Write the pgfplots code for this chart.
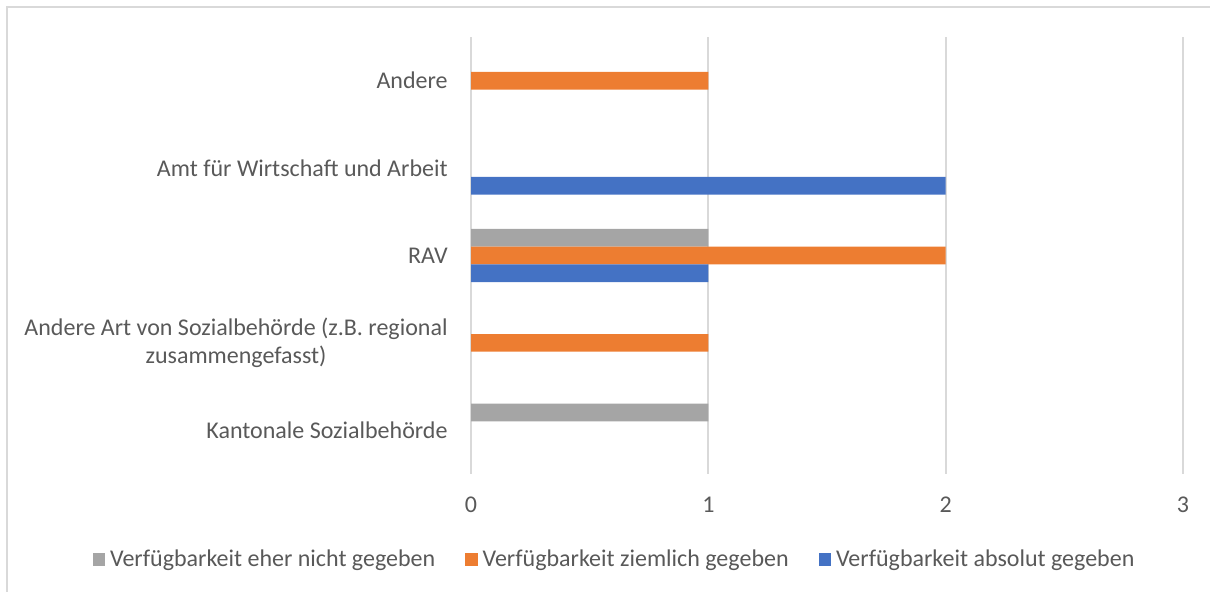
\documentclass[border=0pt]{standalone}
\usepackage{pgfplots}
\pgfplotsset{compat=1.18}
\usepackage{fontspec}
\setmainfont{Carlito}
\definecolor{txt}{HTML}{595959}
\definecolor{grd}{HTML}{D9D9D9}
\definecolor{cgray}{HTML}{A5A5A5}
\definecolor{corange}{HTML}{ED7D31}
\definecolor{cblue}{HTML}{4472C4}
\begin{document}
\begin{tikzpicture}
\useasboundingbox (0,0) rectangle (605pt,296pt);
\draw[grd, line width=0.75pt] (3.5pt,0) -- (3.5pt,292.5pt) -- (605pt,292.5pt);
\begin{axis}[
  at={(235.5pt,59pt)}, anchor=south west,
  scale only axis, width=356pt, height=218.5pt,
  xmin=0, xmax=3, ymin=-0.5, ymax=4.5,
  xbar, bar width=8.85pt,
  xtick={0,1,2,3}, ytick={0,1,2,3,4},
  yticklabels={Kantonale Sozialbehörde, {Andere Art von Sozialbehörde (z.B. regional\\zusammengefasst)}, RAV, Amt für Wirtschaft und Arbeit, Andere},
  axis line style={draw=none},
  major tick length=0pt,
  xmajorgrids, ymajorgrids=false,
  major grid style={color=grd, line width=0.9pt},
  /pgf/number format/assume math mode=true,
  tick label style={font=\fontsize{12pt}{14pt}\selectfont, text=txt},
  xticklabel style={anchor=center, inner sep=0pt, yshift=-15.5pt},
  yticklabel style={anchor=east, align=center, inner sep=0pt, xshift=-11.5pt},
  legend columns=3,
  legend style={at={(axis description cs:0.203,-0.196)}, anchor=center, draw=none,
    font=\fontsize{12pt}{14pt}\selectfont, text=txt,
    /tikz/every odd column/.append style={column sep=0.5pt},
    /tikz/every even column/.append style={column sep=13pt}},
  legend image code/.code={\fill[#1] (0pt,-3.1pt) rectangle (6.2pt,3.1pt);},
]
\addplot[xbar, fill=cgray, draw=none, bar shift=8.85pt] coordinates {(1,0) (1,2)};
\addplot[xbar, fill=corange, draw=none, bar shift=0pt] coordinates {(1,1) (2,2) (1,4)};
\addplot[xbar, fill=cblue, draw=none, bar shift=-8.85pt] coordinates {(1,2) (2,3)};
\legend{Verfügbarkeit eher nicht gegeben, Verfügbarkeit ziemlich gegeben, Verfügbarkeit absolut gegeben}
\end{axis}
\end{tikzpicture}
\end{document}
